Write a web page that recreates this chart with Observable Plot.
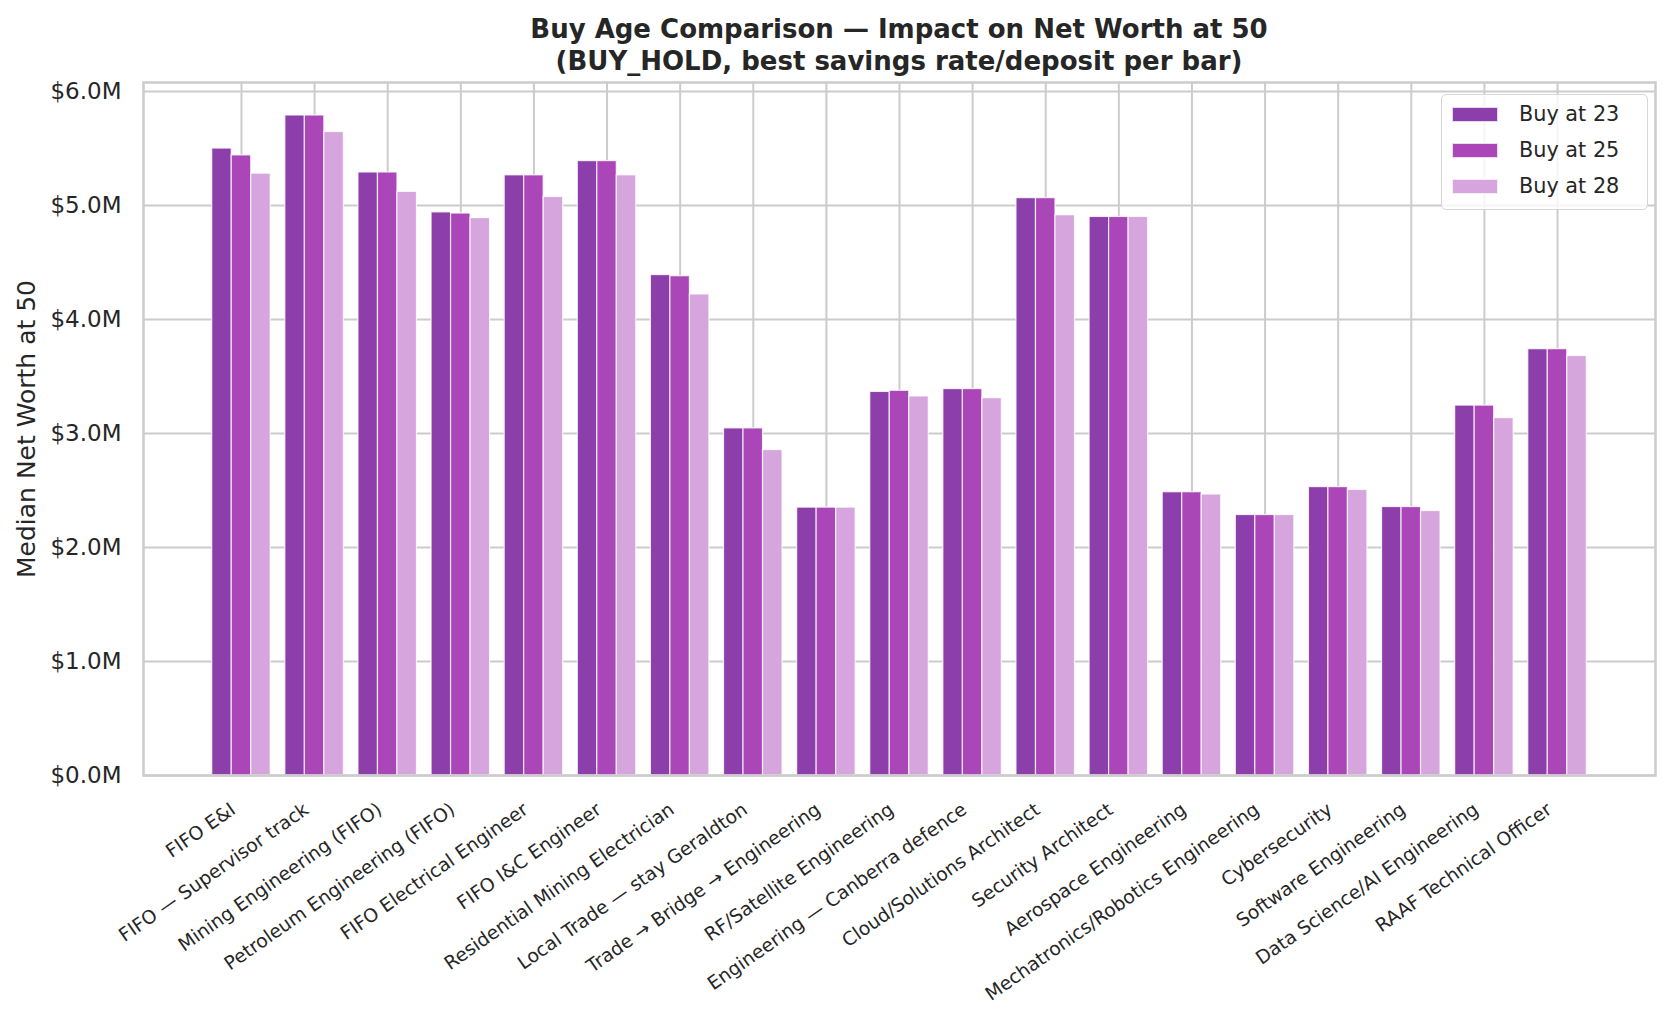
<!DOCTYPE html>
<html><head><meta charset="utf-8">
<script src="https://cdn.jsdelivr.net/npm/d3@7"></script>
<script src="https://cdn.jsdelivr.net/npm/@observablehq/plot@0.6"></script>
<style>
body{margin:0;background:#fff;font-family:"DejaVu Sans",sans-serif;color:#262626}
#wrap{position:relative;width:1669px;height:1015px;overflow:hidden}
#title{height:74px;box-sizing:border-box;padding:13px 14px 0 143px;text-align:center;font-weight:bold;font-size:26px;line-height:32px;color:#262626}
#legend{position:absolute;left:1441px;top:94px;width:207px;height:116px;box-sizing:border-box;background:rgba(255,255,255,0.8);border:1.5px solid #d6d6d6;border-radius:5px}
.item{position:absolute;left:10px;height:36px;display:flex;align-items:center;font-size:20.8px;color:#262626}
.sw{width:46px;height:15px;margin-right:21px;box-sizing:border-box;border:1px solid rgba(255,255,255,0.8)}
</style></head>
<body>
<div id="wrap">
<div id="title"><div>Buy Age Comparison — Impact on Net Worth at 50</div><div>(BUY_HOLD, best savings rate/deposit per bar)</div></div>
<div id="chart"></div>
<div id="legend"></div>
</div>
<script>
const categories = [
  "FIFO E&I", "FIFO — Supervisor track", "Mining Engineering (FIFO)", "Petroleum Engineering (FIFO)",
  "FIFO Electrical Engineer", "FIFO I&C Engineer", "Residential Mining Electrician", "Local Trade — stay Geraldton",
  "Trade → Bridge → Engineering", "RF/Satellite Engineering", "Engineering — Canberra defence", "Cloud/Solutions Architect",
  "Security Architect", "Aerospace Engineering", "Mechatronics/Robotics Engineering", "Cybersecurity",
  "Software Engineering", "Data Science/AI Engineering", "RAAF Technical Officer"
];
const series = ["Buy at 23", "Buy at 25", "Buy at 28"];
const buy23 = [5.50, 5.79, 5.29, 4.94, 5.265, 5.39, 4.39, 3.045, 2.35, 3.365, 3.39, 5.065, 4.90, 2.485, 2.285, 2.53, 2.355, 3.245, 3.74];
const buy25 = [5.44, 5.79, 5.29, 4.93, 5.265, 5.39, 4.38, 3.045, 2.35, 3.375, 3.39, 5.065, 4.90, 2.485, 2.285, 2.53, 2.355, 3.245, 3.74];
const buy28 = [5.28, 5.645, 5.12, 4.89, 5.075, 5.265, 4.22, 2.855, 2.35, 3.325, 3.31, 4.915, 4.90, 2.465, 2.285, 2.505, 2.32, 3.135, 3.68];
const colors = ["#8c3fab", "#ab46b9", "#d6a5dd"];
const yTicks = [0, 1e6, 2e6, 3e6, 4e6, 5e6, 6e6];
const yLabel = "Median Net Worth at 50";

const seriesValues = [buy23, buy25, buy28];
const n = categories.length;
const w = 0.8 / series.length;
const rows = [];
seriesValues.forEach((vals, j) => vals.forEach((v, i) => rows.push({i, j, cat: categories[i], series: series[j], value: v * 1e6})));
const pad = 0.05 * (n - 1 + 0.8);
const ymax = d3.max(rows, d => d.value) * 1.05;

const chart = Plot.plot({
  width: 1669, height: 941,
  marginTop: 8, marginBottom: 240, marginLeft: 143, marginRight: 14,
  style: {fontFamily: "DejaVu Sans", color: "#262626", background: "white", overflow: "visible"},
  x: {domain: [-0.4 - pad, n - 1 + 0.4 + pad]},
  y: {domain: [0, ymax]},
  color: {domain: series, range: colors},
  marks: [
    Plot.gridY(yTicks, {stroke: "#cccccc", strokeOpacity: 1, strokeWidth: 2}),
    Plot.gridX(d3.range(n), {stroke: "#cccccc", strokeOpacity: 1, strokeWidth: 2}),
    Plot.rect(rows, {
      x1: d => d.i + (d.j - 1) * w - w / 2,
      x2: d => d.i + (d.j - 1) * w + w / 2,
      y1: 0, y2: "value", fill: "series", stroke: "white", strokeWidth: 1.2, strokeOpacity: 0.8
    }),
    Plot.frame({stroke: "#cccccc", strokeWidth: 2.5}),
    Plot.axisY(yTicks, {tickFormat: d => `$${(d / 1e6).toFixed(1)}M`, tickSize: 0, tickPadding: 22, fontSize: 23, label: null}),
    Plot.axisX(d3.range(n), {tickFormat: i => categories[i], tickRotate: -35, tickSize: 0, tickPadding: 20, dx: -8, dy: 12, fontSize: 18.75, label: null}),
    Plot.text([yLabel], {text: d => d, frameAnchor: "left", textAnchor: "middle", dx: -117, rotate: -90, fontSize: 25, fill: "#262626"})
  ]
});
document.getElementById("chart").appendChild(chart);

const legend = document.getElementById("legend");
series.forEach((s, j) => {
  const it = document.createElement("div");
  it.className = "item";
  it.style.top = (1 + j * 36) + "px";
  const sw = document.createElement("span");
  sw.className = "sw";
  sw.style.background = colors[j];
  it.appendChild(sw);
  it.appendChild(document.createTextNode(s));
  legend.appendChild(it);
});
</script>
</body></html>
